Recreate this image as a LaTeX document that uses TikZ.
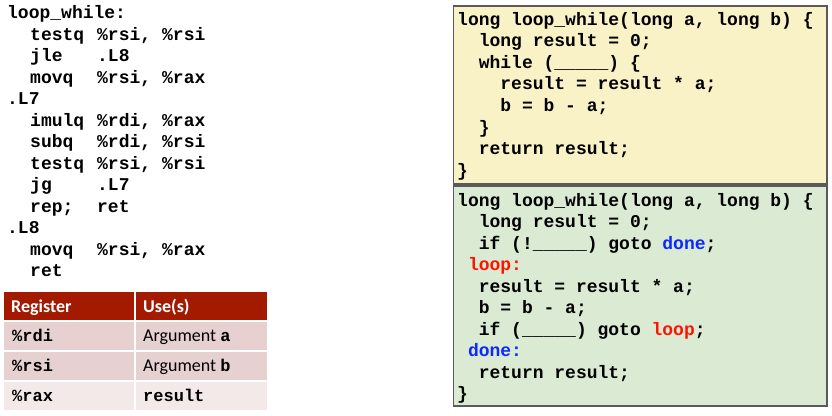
\documentclass[tikz,border=0pt]{standalone}
\usepackage{fontspec}
\newfontfamily\codefont{Liberation Mono}
\newfontfamily\calfont{Carlito}
\definecolor{hdrred}{RGB}{163,26,0}
\definecolor{rowpink}{RGB}{230,208,208}
\definecolor{rowlight}{RGB}{243,233,233}
\definecolor{boxyellow}{RGB}{249,242,198}
\definecolor{boxgreen}{RGB}{219,234,211}
\definecolor{boxline}{RGB}{90,90,90}
\definecolor{lblred}{RGB}{255,20,0}
\definecolor{lblblue}{RGB}{10,40,255}
\newcommand\asmln[3]{\makebox[67pt][l]{#1}\makebox[65pt][l]{#2}#3}
\tikzset{
  code/.style={anchor=base west, inner sep=0pt, font=\codefont\bfseries\fontsize{18}{20}\selectfont},
  tcode/.style={anchor=base west, inner sep=0pt, font=\codefont\bfseries\fontsize{17}{19}\selectfont},
  ttext/.style={anchor=base west, inner sep=0pt, font=\calfont\fontsize{18}{20}\selectfont},
  thead/.style={anchor=base west, inner sep=0pt, text=white, font=\calfont\bfseries\fontsize{18}{20}\selectfont},
  yellowbox/.style={fill=boxyellow, draw=boxline, line width=1.5pt},
  greenbox/.style={fill=boxgreen, draw=boxline, line width=1.5pt},
}
\begin{document}
\begin{tikzpicture}[x=1pt,y=-1pt]
\useasboundingbox (0,0) rectangle (832,415);
\fill[white] (0,0) rectangle (832,415);

% assembly
\node[code] (a0) at (7,18.5) {loop\_while:};
\node[code] (a1) at (30,40) {\asmln{testq}{\%rsi,}{\%rsi}};
\node[code] (a2) at (30,61.5) {\asmln{jle}{.L8}{}};
\node[code] (a3) at (30,83) {\asmln{movq}{\%rsi,}{\%rax}};
\node[code] (a4) at (7,104.5) {.L7};
\node[code] (a5) at (30,126) {\asmln{imulq}{\%rdi,}{\%rax}};
\node[code] (a6) at (30,147.5) {\asmln{subq}{\%rdi,}{\%rsi}};
\node[code] (a7) at (30,169) {\asmln{testq}{\%rsi,}{\%rsi}};
\node[code] (a8) at (30,190.5) {\asmln{jg}{.L7}{}};
\node[code] (a9) at (30,212) {\asmln{rep;}{ret}{}};
\node[code] (a10) at (7,233.5) {.L8};
\node[code] (a11) at (30,255) {\asmln{movq}{\%rsi,}{\%rax}};
\node[code] (a12) at (30,276.5) {ret};

% table
\fill[hdrred] (4,292) rectangle (267,320);
\fill[rowpink] (4,321.5) rectangle (267,350);
\fill[rowpink] (4,351.5) rectangle (267,380);
\fill[rowlight] (4,381.5) rectangle (267,410);
\draw[white, line width=1.2pt] (135,292) -- (135,410);
\node[thead] (h1) at (11,312) {Register};
\node[thead] (h2) at (143,312) {Use(s)};
\node[tcode] (r1) at (12,341) {\%rdi};
\node[tcode] (r2) at (12,371) {\%rsi};
\node[tcode] (r3) at (12,401) {\%rax};
\node[ttext] (u1) at (143,341) {Argument {\codefont\bfseries\fontsize{17}{19}\selectfont a}};
\node[ttext] (u2) at (143,371) {Argument {\codefont\bfseries\fontsize{17}{19}\selectfont b}};
\node[tcode] (u3) at (143,401) {result};

% yellow box
\draw[yellowbox] (453.5,6) rectangle (827,184);
\node[code] (y1) at (457,25) {long loop\_while(long a, long b) \{};
\node[code] (y2) at (478.6,46.6) {long result = 0;};
\node[code] (y3) at (478.6,68.2) {while (\_\_\_\_\_) \{};
\node[code] (y4) at (500.2,89.8) {result = result * a;};
\node[code] (y5) at (500.2,111.4) {b = b - a;};
\node[code] (y6) at (478.6,133) {\}};
\node[code] (y7) at (478.6,154.6) {return result;};
\node[code] (y8) at (457,176.2) {\}};

% green box
\draw[greenbox] (453.5,186) rectangle (827,406);
\node[code] (g1) at (457,206) {long loop\_while(long a, long b) \{};
\node[code] (g2) at (478.6,227.5) {long result = 0;};
\node[code] (g3) at (478.6,249) {if (!\_\_\_\_\_) goto \textcolor{lblblue}{done};};
\node[code, text=lblred] (g4) at (467.8,270.5) {loop:};
\node[code] (g5) at (478.6,292) {result = result * a;};
\node[code] (g6) at (478.6,313.5) {b = b - a;};
\node[code] (g7) at (478.6,335) {if (\_\_\_\_\_) goto \textcolor{lblred}{loop};};
\node[code, text=lblblue] (g8) at (467.8,356.5) {done:};
\node[code] (g9) at (478.6,378) {return result;};
\node[code] (g10) at (457,399.5) {\}};
\end{tikzpicture}
\end{document}
